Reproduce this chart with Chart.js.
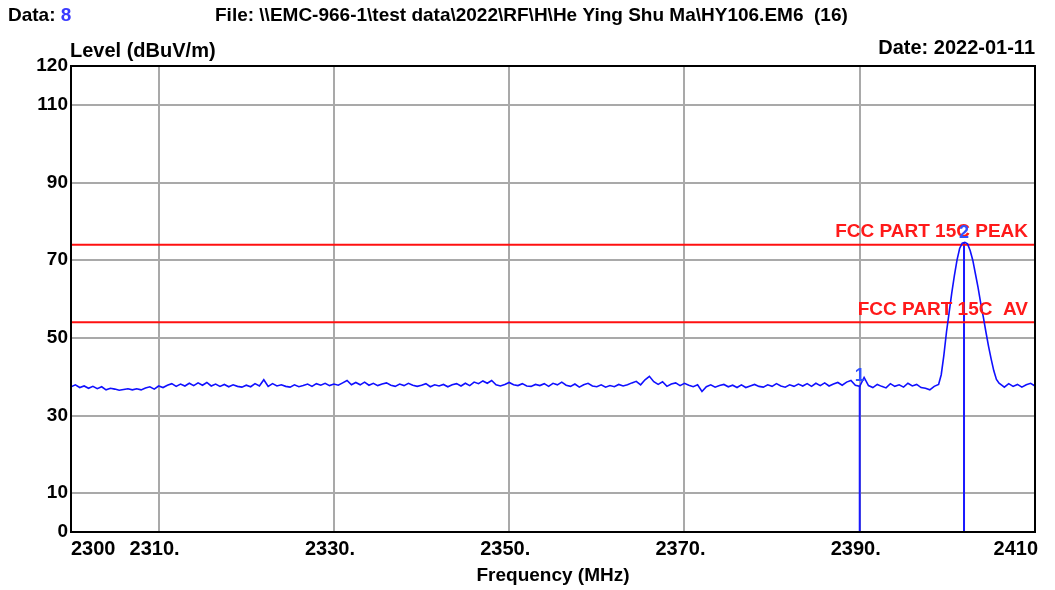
<!DOCTYPE html>
<html>
<head>
<meta charset="utf-8">
<script src="https://cdn.jsdelivr.net/npm/chart.js@4"></script>
<style>
  body { margin: 0; background: #fff; }
  #wrap { width: 1055px; height: 590px; }
</style>
</head>
<body>
<div id="wrap"><canvas id="emcChart" width="1055" height="590"></canvas></div>
<script>
  // scan settings
  const freqMin = 2300;
  const freqMax = 2410;
  const xTicks = [2300, 2310, 2330, 2350, 2370, 2390, 2410];
  const xTickLabels = ['2300', '2310.', '2330.', '2350.', '2370.', '2390.', '2410'];
  const yTicks = [0, 10, 30, 50, 70, 90, 110, 120];

  // noise floor below the carrier, 0.5 MHz steps from 2300 MHz
  const noiseLowStart = 2300;
  const noiseLowStep = 0.5;
  const noiseLow = [
    37.4, 37.9, 37.2, 37.6, 37.0, 37.5, 36.9, 37.4, 36.6, 37.0,
    36.8, 36.5, 36.7, 36.9, 36.6, 36.9, 36.6, 37.1, 37.4, 36.8,
    37.6, 37.2, 37.8, 38.2, 37.5, 38.1, 37.6, 38.3, 37.7, 38.4,
    37.8, 38.5, 37.6, 38.1, 37.5, 38.0, 37.4, 37.9, 37.5, 37.3,
    37.8, 37.4, 38.2, 37.6, 39.2, 37.5, 38.2, 37.6, 37.9, 37.5,
    37.3, 37.9, 37.4, 37.7, 38.1, 37.5, 38.2, 37.8, 38.3, 37.7,
    38.1, 37.8, 38.4, 39.0, 37.9, 38.5, 37.9, 38.6, 37.8, 38.3,
    37.7, 38.1, 38.4, 37.8, 37.5, 38.1, 37.7, 38.3, 37.8, 37.5,
    37.8, 38.2, 37.4, 37.9, 37.6, 38.0, 37.4, 37.9, 38.2, 37.6,
    38.3, 37.7, 38.6, 38.2, 38.9, 38.3, 39.0, 37.9, 37.6, 38.0,
    38.5, 37.9, 37.7, 38.2, 37.6, 37.5, 38.0, 37.7, 38.2, 37.5,
    38.3, 37.9, 38.6, 37.8, 37.5, 38.1, 37.3, 37.9, 38.3, 37.6,
    37.4, 37.9, 37.3, 37.7, 37.4, 38.0, 37.6, 37.9, 38.4, 38.8,
    37.9, 39.2, 40.1, 38.7, 38.0, 38.7, 37.5, 38.1, 38.4, 37.7,
    38.3, 37.8, 37.4, 37.9, 36.2, 37.4, 37.9, 37.3, 37.7, 38.0,
    37.4, 37.8, 37.2, 37.9, 37.2, 37.6, 38.0, 37.5, 37.3, 37.9,
    37.5, 38.2, 37.6, 37.3, 37.9, 37.5, 38.1, 37.6, 38.2, 37.5,
    38.3, 37.7, 38.4, 37.6, 38.1, 38.5, 37.8, 38.6, 39.0, 37.8,
    37.5, 39.8, 37.7, 37.2, 38.0, 37.5, 37.1, 38.2, 37.5, 37.9,
    37.3, 38.3, 37.6, 38.0, 37.2, 37.0, 36.6, 37.5
  ];

  // carrier around 2402 MHz
  const peakFreqs = [
    2399.0, 2399.3, 2399.6, 2399.9, 2400.2, 2400.5, 2400.8, 2401.1, 2401.4, 2401.7,
    2402.0, 2402.3, 2402.6, 2402.9, 2403.2, 2403.5, 2403.8, 2404.1, 2404.4, 2404.7,
    2405.0, 2405.3, 2405.6, 2405.9, 2406.2
  ];
  const peakLevels = [
    38.0, 40.5, 45.5, 51.5, 56.5, 61.5, 66.0, 70.0, 73.0, 74.4,
    74.6, 74.2, 72.5, 70.0, 66.5, 63.0, 59.0, 55.4, 51.5, 47.8,
    44.5, 41.5, 39.3, 38.3, 37.8
  ];

  // noise floor above the carrier
  const noiseHighStart = 2406.5;
  const noiseHighStep = 0.5;
  const noiseHigh = [37.3, 38.2, 37.5, 38.0, 37.3, 37.9, 38.3, 37.6];

  // limits
  const peakLimit = 74;
  const avLimit = 54;
  const peakLimitLabel = 'FCC PART 15C PEAK';
  const avLimitLabel = 'FCC PART 15C  AV';

  // markers
  const markerNames = ['1', '2'];
  const markerFreqs = [2390, 2401.9];
  const markerLevels = [37.6, 74.5];

  const FONT = "'Liberation Sans', Arial, sans-serif";

  const trace = [];
  noiseLow.forEach((v, i) => trace.push({ x: noiseLowStart + i * noiseLowStep, y: v }));
  peakFreqs.forEach((f, i) => trace.push({ x: f, y: peakLevels[i] }));
  noiseHigh.forEach((v, i) => trace.push({ x: noiseHighStart + i * noiseHighStep, y: v }));

  const datasets = [
    {
      label: 'Level',
      data: trace,
      borderColor: '#1010ff',
      borderWidth: 1.6,
      pointRadius: 0,
      showLine: true,
      tension: 0
    },
    {
      label: peakLimitLabel,
      data: [{ x: freqMin, y: peakLimit }, { x: freqMax, y: peakLimit }],
      borderColor: '#ff1010',
      borderWidth: 2,
      pointRadius: 0,
      showLine: true
    },
    {
      label: avLimitLabel,
      data: [{ x: freqMin, y: avLimit }, { x: freqMax, y: avLimit }],
      borderColor: '#ff1010',
      borderWidth: 2,
      pointRadius: 0,
      showLine: true
    }
  ];
  markerFreqs.forEach((f, i) => {
    datasets.push({
      label: 'Marker ' + markerNames[i],
      data: [{ x: f, y: 0 }, { x: f, y: markerLevels[i] }],
      borderColor: '#1a1aff',
      borderWidth: 2,
      pointRadius: 0,
      showLine: true
    });
  });

  const textPlugin = {
    id: 'emcText',
    afterDraw(chart) {
      const ctx = chart.ctx;
      const area = chart.chartArea;
      const xs = chart.scales.x;
      const ys = chart.scales.y;
      ctx.save();

      // frame
      ctx.strokeStyle = '#000';
      ctx.lineWidth = 2;
      ctx.strokeRect(area.left, area.top, area.right - area.left, area.bottom - area.top);

      ctx.fillStyle = '#000';
      ctx.textBaseline = 'middle';
      ctx.font = 'bold 19px ' + FONT;

      // header
      ctx.textAlign = 'left';
      ctx.fillText('Data: ', 8, 16);
      const w = ctx.measureText('Data: ').width;
      ctx.fillStyle = '#3a3aff';
      ctx.fillText('8', 8 + w, 16);
      ctx.fillStyle = '#000';
      ctx.fillText('File: \\\\EMC-966-1\\test data\\2022\\RF\\H\\He Ying Shu Ma\\HY106.EM6  (16)', 215, 16);

      ctx.font = 'bold 20px ' + FONT;
      ctx.fillText('Level (dBuV/m)', 70, 51);
      ctx.textAlign = 'right';
      ctx.fillText('Date: 2022-01-11', 1035, 48);

      // x tick labels
      ctx.font = 'bold 20px ' + FONT;
      xTicks.forEach((t, i) => {
        const px = xs.getPixelForValue(t);
        if (i === 0) {
          ctx.textAlign = 'left';
          ctx.fillText(xTickLabels[i], px, 549);
        } else if (i === xTicks.length - 1) {
          ctx.textAlign = 'right';
          ctx.fillText(xTickLabels[i], px + 3, 549);
        } else {
          ctx.textAlign = 'center';
          ctx.fillText(xTickLabels[i], px - 4, 549);
        }
      });

      ctx.font = 'bold 19px ' + FONT;
      ctx.textAlign = 'center';
      ctx.fillText('Frequency (MHz)', (area.left + area.right) / 2, 576);

      // limit labels
      ctx.fillStyle = '#ff1a1a';
      ctx.textAlign = 'right';
      ctx.fillText(peakLimitLabel, area.right - 7, ys.getPixelForValue(peakLimit) - 13);
      ctx.fillText(avLimitLabel, area.right - 7, ys.getPixelForValue(avLimit) - 13);

      // marker labels
      ctx.font = 'bold 18px ' + FONT;
      ctx.fillStyle = '#3050ff';
      ctx.textAlign = 'center';
      markerFreqs.forEach((f, i) => {
        ctx.fillText(markerNames[i], xs.getPixelForValue(f), ys.getPixelForValue(markerLevels[i]) - 10);
      });

      ctx.restore();
    }
  };

  const ctx = document.getElementById('emcChart').getContext('2d');
  new Chart(ctx, {
    type: 'scatter',
    data: { datasets: datasets },
    options: {
      responsive: false,
      animation: false,
      devicePixelRatio: 1,
      layout: { padding: { top: 66, right: 20, left: 0, bottom: 0 } },
      plugins: { legend: { display: false }, tooltip: { enabled: false } },
      scales: {
        x: {
          type: 'linear',
          min: freqMin,
          max: freqMax,
          afterBuildTicks: s => { s.ticks = xTicks.map(v => ({ value: v })); },
          afterFit: s => { s.height = 58; },
          ticks: { display: false },
          border: { display: false },
          grid: {
            drawTicks: false,
            lineWidth: 2,
            color: c => (c.tick && (c.tick.value === freqMin || c.tick.value === freqMax)) ? 'rgba(0,0,0,0)' : '#a9a9a9'
          }
        },
        y: {
          min: 0,
          max: 120,
          afterBuildTicks: s => { s.ticks = yTicks.map(v => ({ value: v })); },
          afterFit: s => { s.width = 71; },
          border: { display: false },
          ticks: {
            color: '#000',
            padding: 3,
            font: { family: FONT, size: 19, weight: 'bold' }
          },
          grid: {
            drawTicks: false,
            lineWidth: 2,
            color: c => (c.tick && (c.tick.value === 0 || c.tick.value === 120)) ? 'rgba(0,0,0,0)' : '#a9a9a9'
          }
        }
      }
    },
    plugins: [textPlugin]
  });
</script>
</body>
</html>
